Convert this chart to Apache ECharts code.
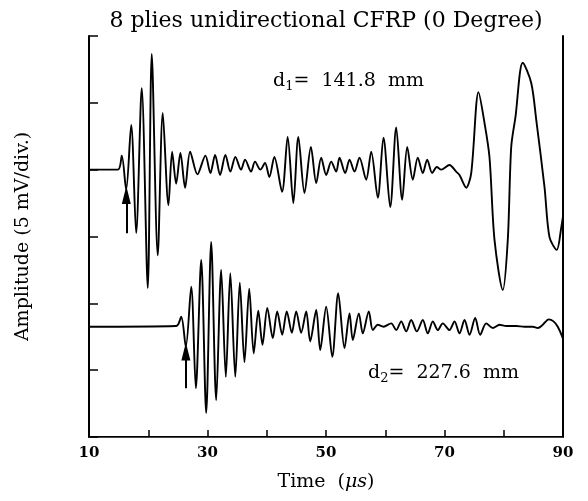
<!DOCTYPE html>
<html><head><meta charset="utf-8">
<script src="https://cdn.jsdelivr.net/npm/echarts@6/dist/echarts.min.js"></script>
<style>html,body{margin:0;padding:0;background:#fff}#c{width:588px;height:501px}</style>
</head><body><div id="c"></div><script>
const titleText = '8 plies unidirectional CFRP (0 Degree)';
const xTickLabels = [10, 30, 50, 70, 90];
const upperTime = [10, 14.86, 15.53, 16.27, 17.12, 17.96, 18.90, 19.92, 20.59, 21.60, 22.45, 23.41, 24.03, 24.71, 25.43, 26.22, 27.07, 28.3,
  29.65, 30.49, 31.28, 32.12, 33.02, 33.86, 34.70, 35.66, 36.34, 37.35, 38.02, 38.92, 39.71, 40.44, 41.28, 42.58, 43.53, 44.49, 45.33, 46.37,
  47.45, 48.35, 49.19, 50.03, 50.88, 51.72, 52.28, 53.24, 53.97, 54.81, 55.65, 56.78, 57.63, 58.74, 59.70, 60.84, 61.85, 62.86, 63.71, 64.65,
  65.49, 66.34, 67.08, 67.92, 68.70, 69.44, 70.84, 71.97, 72.53, 73.66, 74.51, 75.74, 76.75, 77.59, 78.44, 79.84, 80.68, 81.26, 81.98, 83.21,
  84.63, 85.48, 86.88, 87.72, 88.95, 89.70, 90.0];
const upperAmp = [4.0, 4.0, 4.21, 3.70, 4.67, 3.05, 5.22, 2.23, 5.73, 2.72, 4.85, 3.47, 4.27, 3.79, 4.25, 3.73, 4.27, 3.93,
  4.21, 3.95, 4.22, 3.92, 4.22, 3.97, 4.19, 4.00, 4.15, 3.97, 4.12, 4.00, 4.10, 3.89, 4.19, 3.67, 4.49, 3.50, 4.49, 3.65,
  4.34, 3.80, 4.18, 3.92, 4.12, 3.97, 4.18, 3.95, 4.15, 3.97, 4.18, 3.85, 4.27, 3.58, 4.48, 3.44, 4.63, 3.55, 4.34, 3.85,
  4.18, 3.95, 4.15, 3.95, 4.04, 4.00, 4.07, 3.97, 3.92, 3.73, 3.95, 5.16, 4.70, 4.19, 2.95, 2.20, 2.95, 4.34, 4.79, 5.60,
  5.30, 4.75, 3.74, 2.99, 2.80, 3.13, 3.30];
const lowerTime = [10, 24.72, 25.56, 26.34, 27.25, 28.03, 28.94, 29.78, 30.62, 31.47, 32.31, 33.09, 33.85, 34.69, 35.45, 36.24, 37.04, 37.80,
  38.57, 39.28, 40.09, 41.02, 41.76, 42.61, 43.38, 44.23, 44.97, 45.81, 46.66, 47.33, 48.35, 49.02, 50.03, 51.06, 52.06, 53.12, 53.97,
  54.52, 55.54, 56.21, 57.22, 57.90, 58.74, 59.70, 61.00, 61.85, 62.69, 63.54, 64.38, 65.33, 66.34, 67.18, 68.03, 68.87, 69.71, 70.84,
  71.69, 72.53, 73.38, 74.22, 75.18, 76.02, 77.04, 78.15, 79.28, 80.41, 82.10, 83.50, 84.90, 85.75, 86.59, 87.60, 88.40, 89.12, 89.97];
const lowerAmp = [1.65, 1.66, 1.80, 1.35, 2.25, 0.73, 2.65, 0.36, 2.92, 0.55, 2.50, 0.90, 2.45, 0.90, 2.31, 1.12, 2.22, 1.25,
  1.89, 1.38, 1.93, 1.48, 1.88, 1.53, 1.88, 1.56, 1.88, 1.56, 1.88, 1.43, 1.90, 1.30, 1.95, 1.20, 2.15, 1.33, 1.85,
  1.45, 1.85, 1.55, 1.88, 1.60, 1.68, 1.65, 1.70, 1.60, 1.73, 1.58, 1.75, 1.58, 1.75, 1.55, 1.73, 1.60, 1.70, 1.60,
  1.73, 1.55, 1.75, 1.53, 1.78, 1.53, 1.70, 1.63, 1.68, 1.66, 1.66, 1.65, 1.65, 1.63, 1.68, 1.76, 1.73, 1.65, 1.48];
const arrowTime = [16.3, 26.35];
const arrowFrom = [3.05, 0.73];
const arrowTo = [3.62, 1.28];
const distances = ['141.8', '227.6'];

const FONT = 'DejaVu Serif';
const zip = (a, b) => a.map((t, i) => [t, b[i]]);
const arrowLine = i => ({
  silent: true, symbol: ['none', 'triangle'], symbolSize: [9, 18],
  label: { show: false }, lineStyle: { color: '#000', width: 2, type: 'solid' },
  emphasis: { disabled: true },
  data: [[{ coord: [arrowTime[i], arrowFrom[i]] }, { coord: [arrowTime[i], arrowTo[i]] }]]
});
const distText = (i, left, top) => ({
  type: 'text', left: left, top: top,
  style: { text: '{a|d}{s|' + (i + 1) + '}{a|=  ' + distances[i] + '  mm}', fill: '#000',
    rich: { a: { fontFamily: FONT, fontSize: 19, fill: '#000' },
            s: { fontFamily: FONT, fontSize: 13, fill: '#000', padding: [10, 0, 0, 0] } } }
});
const chart = echarts.init(document.getElementById('c'), null, { renderer: 'canvas' });
chart.setOption({
  animation: false,
  backgroundColor: '#fff',
  title: { text: titleText, left: 321, textAlign: 'center', top: 5,
    textStyle: { fontFamily: FONT, fontSize: 22, fontWeight: 'normal', color: '#000' } },
  grid: { left: 89, right: 25, top: 36, bottom: 64 },
  xAxis: [{
    type: 'value', min: 10, max: 90, interval: 10,
    name: 'Time  ({i|μs})', nameLocation: 'middle', nameGap: 36,
    nameTextStyle: { fontFamily: FONT, fontSize: 19, color: '#000', rich: { i: { fontFamily: FONT, fontSize: 19, fontStyle: 'italic', color: '#000' } } },
    axisLine: { lineStyle: { color: '#000', width: 2 } },
    axisTick: { inside: true, length: 7, lineStyle: { color: '#000', width: 1.5 } },
    axisLabel: { margin: 9, fontFamily: FONT, fontSize: 15, fontWeight: 'bold', color: '#000',
      formatter: v => xTickLabels.includes(v) ? String(v) : '' },
    splitLine: { show: false }
  }, {
    type: 'value', position: 'top', min: 10, max: 90,
    axisLine: { lineStyle: { color: '#444', width: 1 } },
    axisTick: { show: false }, axisLabel: { show: false }, splitLine: { show: false }
  }],
  yAxis: [{
    type: 'value', min: 0, max: 6, interval: 1,
    name: 'Amplitude (5 mV/div.)', nameLocation: 'middle', nameGap: 56,
    nameTextStyle: { fontFamily: FONT, fontSize: 19, color: '#000' },
    axisLine: { lineStyle: { color: '#000', width: 2 } },
    axisTick: { inside: true, length: 9, lineStyle: { color: '#000', width: 1.5 } },
    axisLabel: { show: false }, splitLine: { show: false }
  }, {
    type: 'value', position: 'right', min: 0, max: 6,
    axisLine: { show: true, lineStyle: { color: '#000', width: 2 } },
    axisTick: { show: false }, axisLabel: { show: false }, splitLine: { show: false }
  }],
  series: [{
    type: 'line', data: zip(upperTime, upperAmp), showSymbol: false, smooth: 0.3,
    lineStyle: { color: '#000', width: 1.9 }, silent: true, markLine: arrowLine(0)
  }, {
    type: 'line', data: zip(lowerTime, lowerAmp), showSymbol: false, smooth: 0.3,
    lineStyle: { color: '#000', width: 1.9 }, silent: true, markLine: arrowLine(1)
  }],
  graphic: [distText(0, 273, 72), distText(1, 368, 364)]
});
</script></body></html>
